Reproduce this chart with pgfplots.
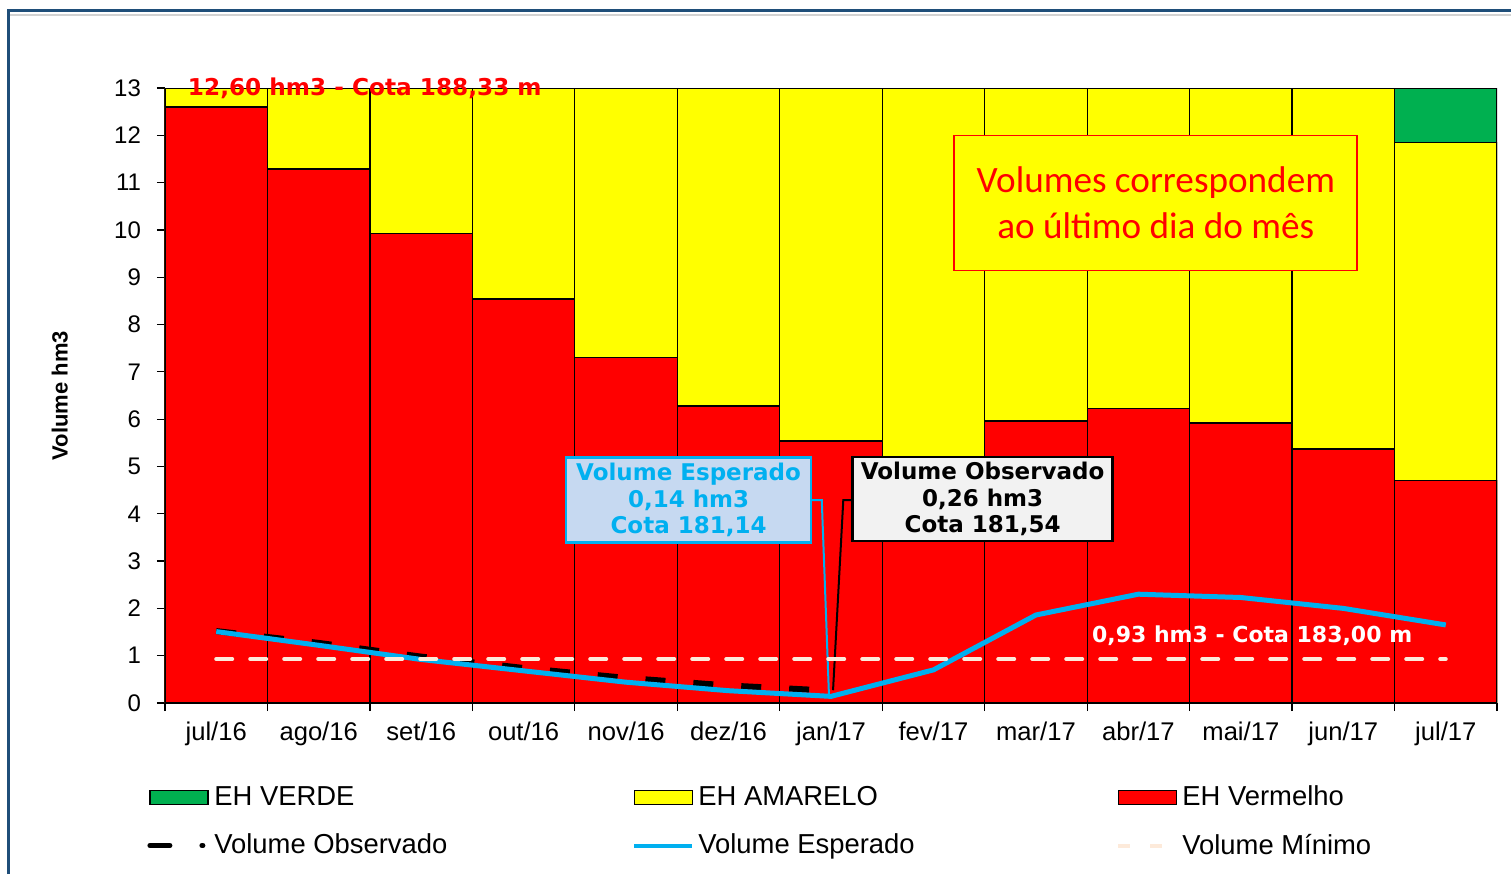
\documentclass[border=0pt]{standalone}
\usepackage{pgfplots}
\pgfplotsset{compat=1.18}
\usepackage{fontspec}
\setmainfont{Liberation Sans}
\newfontfamily\verd{DejaVu Sans}
\newfontfamily\cali{Carlito}
\definecolor{ehgreen}{HTML}{00B050}
\definecolor{ehyellow}{HTML}{FFFF00}
\definecolor{ehred}{HTML}{FF0000}
\definecolor{esp}{HTML}{00B0F0}
\definecolor{minc}{HTML}{FDEADA}
\definecolor{frameblue}{HTML}{1F4E79}
\definecolor{boxblue}{HTML}{C6D9F1}
\definecolor{boxgray}{HTML}{F2F2F2}
\pgfplotsset{
  boxlegend/.style={legend image code/.code={\draw[##1] (0pt,-3.5pt) rectangle (29pt,3.5pt);}},
  linelegend/.style={legend image code/.code={\draw[##1] (0pt,0pt) -- (29pt,0pt);}},
}
\begin{document}
\begin{tikzpicture}
\path[use as bounding box] (-82.5pt,-85.5pt) rectangle (673pt,351.5pt);
\draw[gray!35, line width=1pt] (-77.5pt,344.2pt) -- (673pt,344.2pt);
\draw[frameblue, line width=1.5pt] (-78pt,-85.5pt) -- (-78pt,346pt) -- (673pt,346pt);
\begin{axis}[
  at={(0,0)}, anchor=south west, scale only axis,
  width=666pt, height=307.5pt,
  xmin=-0.5, xmax=12.5, ymin=0, ymax=13,
  clip mode=individual,
  axis x line*=bottom, axis y line*=left,
  axis line style={black, line width=0.6pt},
  xtick={-0.5,0.5,...,12.5}, x tick label as interval,
  xticklabels={jul/16,ago/16,set/16,out/16,nov/16,dez/16,jan/17,fev/17,mar/17,abr/17,mai/17,jun/17,jul/17},
  ytick={0,1,...,13},
  tick align=outside, major tick length=4pt,
  tick style={black, line width=0.6pt},
  yticklabel style={font=\fontsize{12}{14}\selectfont, xshift=-4.5pt},
  xticklabel style={font=\fontsize{12.8}{14}\selectfont, yshift=-2pt},
  /pgf/number format/assume math mode=true,
  ylabel={Volume hm3},
  ylabel style={at={(axis description cs:-0.079,0.5)}, anchor=center, font=\bfseries\fontsize{11}{13}\selectfont},
  legend columns=3,
  legend cell align=left,
  legend style={draw=none, fill=none, at={(axis description cs:-0.0135,-0.128)}, anchor=north west,
    font=\fontsize{13.7}{15.5}\selectfont, inner sep=0pt, row sep=8.5pt},
]
% bars (overlaid, cumulative tops)
\addplot[ybar, bar width=1, bar shift=0pt, fill=ehgreen, draw=black, line width=0.6pt, forget plot]
  coordinates {(12,13)};
\addplot[ybar, bar width=1, bar shift=0pt, fill=ehyellow, draw=black, line width=0.6pt, forget plot]
  coordinates {(0,13)(1,13)(2,13)(3,13)(4,13)(5,13)(6,13)(7,13)(8,13)(9,13)(10,13)(11,13)(12,11.84)};
\addplot[ybar, bar width=1, bar shift=0pt, fill=ehred, draw=black, line width=0.6pt, forget plot]
  coordinates {(0,12.60)(1,11.29)(2,9.92)(3,8.54)(4,7.31)(5,6.28)(6,5.54)(7,5.10)(8,5.96)(9,6.22)(10,5.92)(11,5.37)(12,4.71)};
% leader lines
\draw[esp, line width=1pt] (axis cs:5.815,4.29) -- (axis cs:5.91,4.29) -- (axis cs:5.98,0.17);
\draw[black, line width=1pt] (axis cs:6.21,4.29) -- (axis cs:6.12,4.29) -- (axis cs:6.02,0.27);
% lines
\addplot[black, line width=3pt, dash pattern=on 10pt off 14pt, forget plot]
  coordinates {(0,1.52)(1,1.27)(2,0.98)(3,0.74)(4,0.53)(5,0.37)(6,0.26)};
\addplot[esp, line width=2.5pt, forget plot]
  coordinates {(0,1.51)(1,1.22)(2,0.92)(3,0.68)(4,0.44)(5,0.26)(6,0.14)(7,0.70)(8,1.86)(9,2.30)(10,2.23)(11,2.00)(12,1.65)};
\addplot[minc, line width=2pt, line cap=round, dash pattern=on 8pt off 9pt, forget plot]
  coordinates {(0,0.93)(1,0.93)(2,0.93)(3,0.93)(4,0.93)(5,0.93)(6,0.93)(7,0.93)(8,0.93)(9,0.93)(10,0.93)(11,0.93)(12,0.93)};
% annotations
\node[text=ehred, font=\verd\bfseries\fontsize{11.6}{13}\selectfont] at (axis cs:1.45,13.0) {12,60 hm3 - Cota 188,33 m};
\node[draw=ehred, line width=0.9pt, fill=ehyellow, minimum width=201.5pt, minimum height=67.5pt, align=center, text=ehred, font=\cali\fontsize{18.6}{23}\selectfont] at (axis cs:9.17,10.57) {Volumes correspondem\\ao último dia do mês};
\node[draw=esp, line width=1.2pt, fill=boxblue, minimum width=122.5pt, minimum height=42.5pt, inner sep=0.5pt, align=center, text=esp, font=\verd\bfseries\fontsize{11.5}{13.25}\selectfont] at (axis cs:4.61,4.29) {Volume Esperado\\0,14 hm3\\Cota 181,14};
\node[draw=black, line width=1.2pt, fill=boxgray, minimum width=130pt, minimum height=42pt, inner sep=0.5pt, align=center, text=black, font=\verd\bfseries\fontsize{11.5}{13.25}\selectfont] at (axis cs:7.48,4.31) {Volume Observado\\0,26 hm3\\Cota 181,54};
\node[text=white, font=\verd\bfseries\fontsize{11}{13}\selectfont] at (axis cs:10.11,1.42) {0,93 hm3 - Cota 183,00 m};
% legend
\addlegendimage{boxlegend, fill=ehgreen, draw=black, line width=0.6pt}
\addlegendentry{\makebox[207pt][l]{EH VERDE}}
\addlegendimage{boxlegend, fill=ehyellow, draw=black, line width=0.6pt}
\addlegendentry{\makebox[207pt][l]{EH AMARELO}}
\addlegendimage{boxlegend, fill=ehred, draw=black, line width=0.6pt}
\addlegendentry{\makebox[207pt][l]{EH Vermelho}}
\addlegendimage{linelegend, black, line width=2.5pt, line cap=round, dash pattern=on 10pt off 16pt on 0.5pt}
\addlegendentry{\makebox[207pt][l]{Volume Observado}}
\addlegendimage{linelegend, esp, line width=2pt}
\addlegendentry{\makebox[207pt][l]{Volume Esperado}}
\addlegendimage{linelegend, minc, line width=2pt, dash pattern=on 6pt off 10pt}
\addlegendentry{\makebox[207pt][l]{Volume Mínimo}}
\end{axis}
\end{tikzpicture}
\end{document}
